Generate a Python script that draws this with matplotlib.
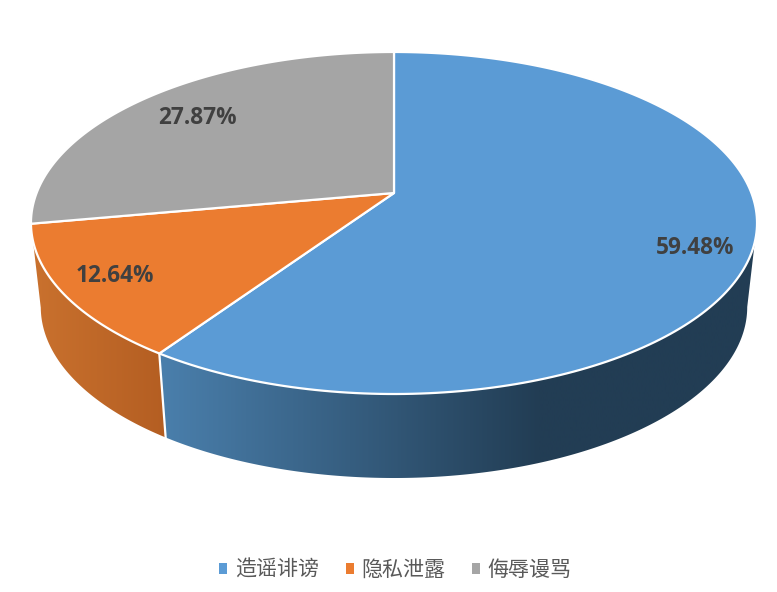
import numpy as np
import matplotlib
matplotlib.use('Agg')
import matplotlib.pyplot as plt
from matplotlib.patches import Patch, Polygon
from matplotlib.colors import LinearSegmentedColormap

plt.rcParams['font.family'] = ['Noto Sans CJK SC', 'DejaVu Sans']

# data
categories = ['造谣诽谤', '隐私泄露', '侮辱谩骂']
values = [59.48, 12.64, 27.87]
colors = ['#5B9BD5', '#EB7C30', '#A5A5A5']
labels = ['59.48%', '12.64%', '27.87%']

# layout in pixels of the picture
apex_x, apex_y = 394, 193
wide = 357.4
tall = 131.9
persp = 0.1754
depth = 84
shrink = 0.973


# clockwise angle from 12 o'clock, goes through a small perspective
def top_xy(theta):
    u, v = np.sin(theta), np.cos(theta)
    d = 1 + persp * v
    return apex_x + wide * u / d, (apex_y - tall * v) / d


def bottom_xy(theta):
    x, y = top_xy(theta)
    return apex_x + shrink * (x - apex_x), y + depth


def wall(t0, t1, x0, x1, c0, c1):
    th = np.linspace(t0, t1, 200)
    xt, yt = top_xy(th)
    xb, yb = bottom_xy(th)
    poly = Polygon(np.c_[np.r_[xt, xb[::-1]], np.r_[yt, yb[::-1]]], closed=True,
                   facecolor='none', edgecolor='none', transform=ax.transData)
    ax.add_patch(poly)
    cmap = LinearSegmentedColormap.from_list('w', [c0, c1])
    left, right = min(xt.min(), xb.min()), max(xt.max(), xb.max())
    grad = np.clip((np.linspace(left, right, 400) - x0) / (x1 - x0), 0, 1)
    im = ax.imshow(grad[None, :], cmap=cmap, vmin=0, vmax=1, aspect='auto',
                   extent=[left, right, 592, 0], zorder=2, interpolation='bilinear')
    im.set_clip_path(poly)


fig = plt.figure(figsize=(7.77, 5.92), dpi=100)
ax = fig.add_axes([0, 0, 1, 1])

edges = np.cumsum([0] + values) / sum(values) * 2 * np.pi

# side walls, only the front part can be seen
# the blue one starts where the rim turns back, at its rightmost point
wall(np.arccos(-persp), edges[1], 160, 540, '#4A7FAC', '#223D54')
wall(edges[1], edges[2], 35, 165, '#C9712E', '#B45E22')

ax.set_xlim(0, 777)
ax.set_ylim(592, 0)
ax.axis('off')

x0, y0 = top_xy(edges[1])
x1, y1 = bottom_xy(edges[1])
ax.plot([x0, x1], [y0, y1], color='white', lw=1.6, zorder=3)

# top face
for i in range(3):
    th = np.linspace(edges[i], edges[i + 1], 200)
    xs, ys = top_xy(th)
    ax.fill(np.r_[apex_x, xs], np.r_[apex_y, ys], facecolor=colors[i],
            edgecolor='white', lw=1.6, joinstyle='round', zorder=4)

label_x = [695, 114.5, 197.5]
label_y = [248, 276, 118]
for i in range(3):
    ax.text(label_x[i], label_y[i], labels[i], color='#404040', fontsize=16.3,
            fontweight='bold', family='Open Sans', ha='center', va='center', zorder=5)

handles = [Patch(facecolor=c, edgecolor='none') for c in colors]
leg = ax.legend(handles, categories, loc='center', bbox_to_anchor=(395.5 / 777, 1 - 570 / 592),
                ncol=3, frameon=False, fontsize=15.1, labelcolor='#595959',
                handlelength=0.38, handleheight=0.38, handletextpad=0.38, columnspacing=1.25)

fig.savefig('out.png', dpi=100, facecolor='white')
